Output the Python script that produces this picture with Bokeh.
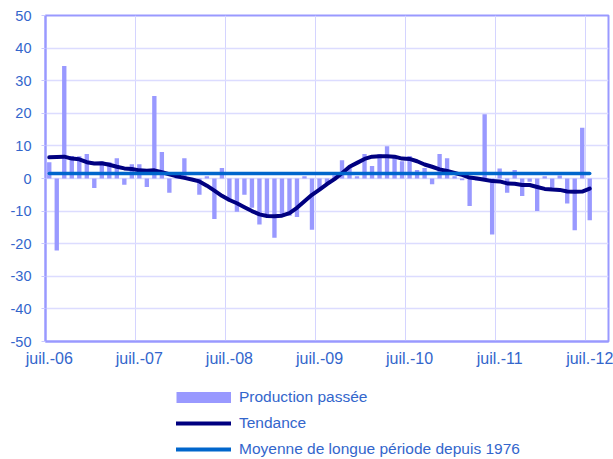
from bokeh.plotting import figure
from bokeh.layouts import column
from bokeh.models import Range1d, FixedTicker, Legend, LegendItem, ColumnDataSource
from bokeh.embed import file_html
from bokeh.resources import INLINE

# Monthly data, juil.-06 (index 0) to juil.-12 (index 72)
production = [5.0, -22.1, 34.5, 6.9, 6.8, 7.5, -2.9, 5.2, 5.0, 6.2, -1.9, 4.4,
              4.4, -2.6, 25.3, 8.1, -4.4, 0.5, 6.2, -0.5, -5.0, 0.7, -12.4, 3.2,
              -7.0, -10.2, -5.0, -9.0, -14.1, -11.6, -18.2, -11.6, -11.4, -11.8, 0.7, -15.7,
              -3.5, -1.5, 1.0, 5.6, 3.3, 0.7, 7.5, 3.8, 7.5, 9.9, 6.5, 5.3,
              6.9, 2.6, 3.2, -1.8, 7.5, 6.2, 0.7, -0.5, -8.4, -0.6, 19.7, -17.2,
              3.1, -4.4, 2.6, -5.4, -1.0, -10.0, 0.7, -3.0, 0.9, -7.7, -15.9, 15.6, -12.8]
tendance = [6.5, 6.6, 6.7, 6.1, 5.9, 5.0, 4.6, 4.7, 4.2, 3.6, 3.1, 2.9,
            2.5, 2.4, 2.5, 1.9, 1.3, 0.7, 0.2, -0.3, -0.9, -2.2, -3.7, -5.3,
            -6.6, -7.6, -8.8, -10.0, -11.0, -11.5, -11.6, -11.4, -10.6, -9.0, -7.0, -5.0,
            -3.4, -1.7, -0.2, 1.6, 3.6, 4.8, 6.0, 6.7, 6.8, 6.8, 6.7, 6.1,
            6.0, 5.3, 4.3, 3.6, 2.8, 2.3, 1.7, 1.1, 0.3, 0.0, -0.4, -0.8,
            -0.9, -1.5, -1.6, -2.0, -2.0, -2.6, -3.2, -3.4, -3.5, -4.0, -4.1, -4.0, -3.1]
moyenne_longue_periode = 1.5
n_categories = 75
tick_labels = ["juil.-06", "juil.-07", "juil.-08", "juil.-09", "juil.-10", "juil.-11", "juil.-12"]
tick_months = [0, 12, 24, 36, 48, 60, 72]
y_ticks = [-50, -40, -30, -20, -10, 0, 10, 20, 30, 40, 50]
legend_labels = ["Production passée", "Tendance", "Moyenne de longue période depuis 1976"]

BAR_C = "#9999FF"
TREND_C = "#000080"
AVG_C = "#0066CC"
TXT = "#3366CC"
FONT = "Liberation Sans"

xs = [i + 0.5 for i in range(len(production))]
src = ColumnDataSource(dict(x=xs, prod=production, trend=tendance))

p = figure(width=613, height=372, output_backend="svg", toolbar_location=None,
           x_range=Range1d(0, n_categories), y_range=Range1d(-50, 50),
           min_border_left=45, min_border_right=5, min_border_top=15, min_border_bottom=31)
p.background_fill_color = "white"
p.border_fill_color = "white"
p.outline_line_color = BAR_C
p.outline_line_width = 2

# grids
p.xgrid.ticker = FixedTicker(ticks=[m for m in tick_months if m > 0])
p.xgrid.grid_line_color = "#D4D4FF"
p.xgrid.grid_line_width = 1
p.ygrid.ticker = FixedTicker(ticks=y_ticks)
p.ygrid.grid_line_color = "#DCDCFF"
p.ygrid.grid_line_width = 1.5

# axes
p.xaxis.ticker = FixedTicker(ticks=[m + 0.5 for m in tick_months])
p.xaxis.major_label_overrides = {m + 0.5: lab for m, lab in zip(tick_months, tick_labels)}
p.xaxis.major_tick_out = 0
p.xaxis.major_tick_in = 0
p.xaxis.minor_tick_out = 0
p.xaxis.minor_tick_in = 0
p.xaxis.axis_line_color = BAR_C
p.xaxis.axis_line_width = 2
p.xaxis.major_label_standoff = 8
p.xaxis.major_label_text_font = FONT
p.xaxis.major_label_text_font_size = "16px"
p.xaxis.major_label_text_color = TXT

p.yaxis.ticker = FixedTicker(ticks=y_ticks)
p.yaxis.major_label_overrides = {v: str(v) for v in y_ticks}
p.yaxis.major_tick_out = 4
p.yaxis.major_tick_in = 0
p.yaxis.minor_tick_out = 0
p.yaxis.minor_tick_in = 0
p.yaxis.major_tick_line_color = "#C8C8FF"
p.yaxis.axis_line_color = BAR_C
p.yaxis.axis_line_width = 2
p.yaxis.major_label_standoff = 10
p.yaxis.major_label_text_font = FONT
p.yaxis.major_label_text_font_size = "14.5px"
p.yaxis.major_label_text_color = TXT

p.vbar(x="x", top="prod", bottom=0, width=0.58, source=src,
       fill_color=BAR_C, line_color=None)
p.line(x="x", y="trend", source=src, line_color=TREND_C, line_width=4,
       line_join="round", line_cap="round")
p.line(x=[xs[0], xs[-1]], y=[moyenne_longue_periode, moyenne_longue_periode],
       line_color=AVG_C, line_width=3.5, line_cap="round")

# legend panel below the chart
lg = figure(width=613, height=87, output_backend="svg", toolbar_location=None,
            x_range=Range1d(0, 1), y_range=Range1d(0, 1),
            x_axis_type=None, y_axis_type=None,
            min_border_left=45, min_border_right=5, min_border_top=0, min_border_bottom=0)
lg.grid.visible = False
lg.outline_line_color = None
lg.background_fill_color = "white"
lg.border_fill_color = "white"
nan = float("nan")
r_bar = lg.line(x=[nan], y=[nan], line_color=BAR_C, line_width=11, line_cap="butt")
r_trend = lg.line(x=[nan], y=[nan], line_color=TREND_C, line_width=4, line_cap="round")
r_avg = lg.line(x=[nan], y=[nan], line_color=AVG_C, line_width=4, line_cap="round")

legend = Legend(items=[LegendItem(label=legend_labels[0], renderers=[r_bar]),
                       LegendItem(label=legend_labels[1], renderers=[r_trend]),
                       LegendItem(label=legend_labels[2], renderers=[r_avg])],
                location=(131, 1), orientation="vertical",
                glyph_width=55, glyph_height=18, label_height=18, spacing=8,
                label_standoff=8, padding=0, margin=0,
                border_line_color=None, background_fill_alpha=0,
                label_text_font=FONT, label_text_font_size="15.5px", label_text_color=TXT)
lg.add_layout(legend, "center")

layout = column(p, lg, spacing=0)
open("out.html", "w").write(file_html(layout, INLINE))
